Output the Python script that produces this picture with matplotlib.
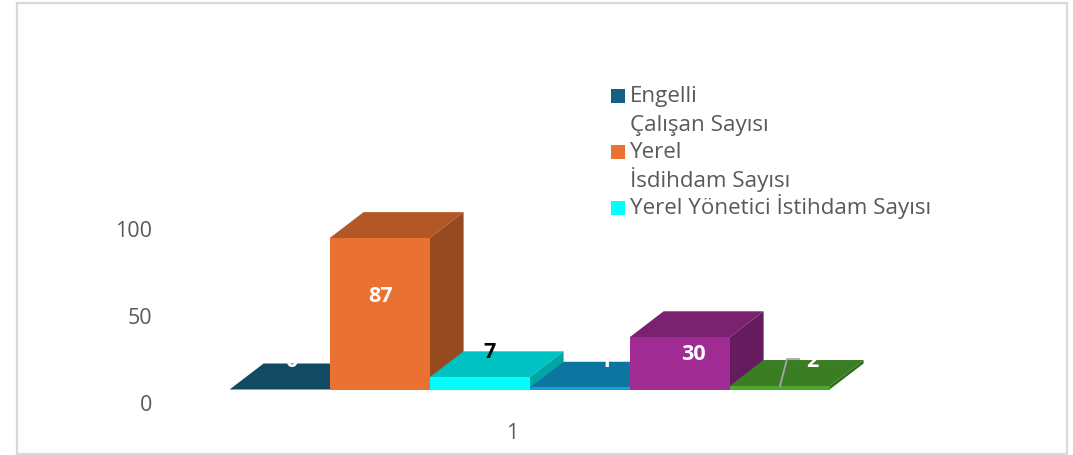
import matplotlib
matplotlib.use("Agg")
import matplotlib.pyplot as plt
from matplotlib.patches import Polygon, Rectangle
from matplotlib.transforms import ScaledTranslation

plt.rcParams["font.family"] = ["Open Sans", "DejaVu Sans"]

W, H, DPI = 1073, 455, 100

# data
values = [0, 87, 7, 1, 30, 2]
value_labels = ["0", "87", "7", "1", "30", "2"]
y_ticks = [0, 50, 100]
category_label = "1"
legend_lines = ["Engelli", "Çalışan Sayısı", "Yerel", "İsdihdam Sayısı", "Yerel Yönetici İstihdam Sayısı"]

# front / top / side shades per bar
front_colors = ["#156082", "#E97132", "#00FFFF", "#0F9ED5", "#A02B93", "#4EA72E"]
top_colors   = ["#134A63", "#B35726", "#00C2C2", "#0C76A0", "#7A216F", "#3B7D23"]
side_colors  = ["#0F4761", "#964A1F", "#00A5A5", "#0A6A90", "#661B5E", "#336C1E"]
label_colors = ["white", "white", "black", "white", "white", "white"]

# label placement in pixels, measured from the bar's foot
label_dx = [12, 1, 10, 26, 14, 33]
label_dy = [28, 93, 37, 28, 35, 28]

BASE_PX  = 389.5   # pixel row of value 0
LEFT_PX  = 229.6
BAR_PX   = 100
UNIT_PX  = 1.74    # pixels per unit of value
DEPTH_X  = 34 / BAR_PX
DEPTH_Y  = 26 / UNIT_PX
GREY     = "#595959"

fig = plt.figure(figsize=(W / DPI, H / DPI), dpi=DPI, facecolor="white")

# overlay in pixel coords for the frame and legend, above the bars
over = fig.add_axes([0, 0, 1, 1], zorder=3)
over.set_xlim(0, W)
over.set_ylim(H, 0)
over.axis("off")
over.add_patch(Rectangle((17, 3), 1050, 451, fill=False, ec="#D9D9D9", lw=1.6))

ax = fig.add_axes([LEFT_PX / W, (H - BASE_PX) / H, 7 * BAR_PX / W, 200 * UNIT_PX / H], zorder=1)
ax.patch.set_alpha(0)
ax.set_xlim(-0.5, 6.5)
ax.set_ylim(0, 200)
for s in ax.spines.values():
    s.set_visible(False)

# ── Bars: front, top and side faces ──────────────────────────────────────
for i, v in enumerate(values):
    x0, x1 = i - 0.5, i + 0.5
    ax.add_patch(Polygon([(x0, v), (x1, v), (x1 + DEPTH_X, v + DEPTH_Y), (x0 + DEPTH_X, v + DEPTH_Y)],
                         fc=top_colors[i], ec="none", clip_on=False))
    ax.add_patch(Polygon([(x1, 0), (x1 + DEPTH_X, DEPTH_Y), (x1 + DEPTH_X, v + DEPTH_Y), (x1, v)],
                         fc=side_colors[i], ec="none", clip_on=False))
    ax.add_patch(Rectangle((x0, 0), 1, v, fc=front_colors[i], ec="none", clip_on=False))

for i, v in enumerate(values):
    ax.annotate(value_labels[i], xy=(i, 0), xytext=(label_dx[i], label_dy[i]),
                textcoords="offset pixels", ha="center", va="center",
                fontsize=15.5, fontweight="bold", color=label_colors[i], zorder=5)

# leader line of the last label
over.plot([780, 787, 799], [386, 359, 359], color="#A6A6A6", lw=1.3, zorder=6)

# ── Axis labels ──────────────────────────────────────────────────────────
ax.set_yticks(y_ticks)
ax.set_yticklabels([str(t) for t in y_ticks], fontsize=15.5, color=GREY)
ax.tick_params(axis="y", length=0, pad=(LEFT_PX - 152) * 72 / DPI)
shift = ScaledTranslation(0, -13.5 / DPI, fig.dpi_scale_trans)
for lab in ax.get_yticklabels():
    lab.set_transform(lab.get_transform() + shift)

ax.set_xticks([2.33])
ax.set_xticklabels([category_label], fontsize=15.5, color=GREY)
ax.tick_params(axis="x", length=0, pad=(432 - 9 - BASE_PX) * 72 / DPI)

# ── Legend ───────────────────────────────────────────────────────────────
for y, c in zip([89, 145, 201], front_colors):
    over.add_patch(Rectangle((611, y), 14, 14, fc=c, ec="none"))
for y, t in zip([102, 131, 158, 187, 214], legend_lines):
    over.text(630, y, t, fontsize=16.1, color=GREY, va="baseline", ha="left")

fig.savefig("out.png", dpi=DPI)
plt.close(fig)
